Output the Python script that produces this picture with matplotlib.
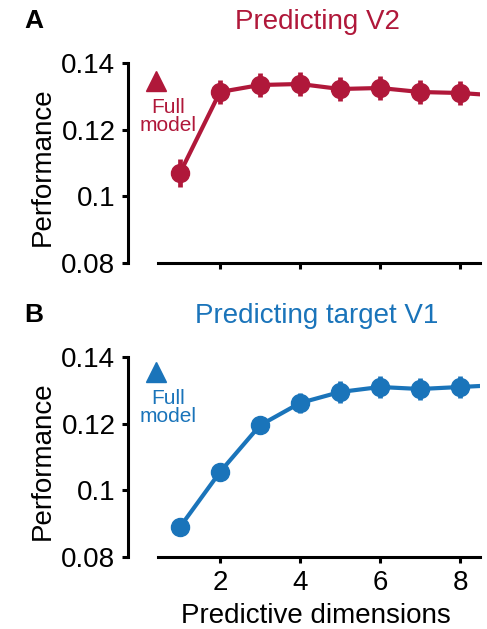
import matplotlib
matplotlib.use("Agg")
import matplotlib.pyplot as plt

plt.rcParams['font.family'] = ['Liberation Sans', 'DejaVu Sans']

# Performance vs. number of predictive dimensions
dims = [1, 2, 3, 4, 5, 6, 7, 8, 9]
v2_perf = [0.107, 0.1313, 0.1334, 0.1337, 0.1322, 0.1325, 0.1313, 0.1310, 0.1302]
v2_err = [0.0042, 0.0037, 0.0037, 0.0037, 0.0036, 0.0036, 0.0036, 0.0036, 0.0036]
v1_perf = [0.0890, 0.1055, 0.1195, 0.1262, 0.1295, 0.1310, 0.1304, 0.1310, 0.1316]
v1_err = [0.001, 0.0015, 0.0024, 0.0029, 0.0033, 0.0034, 0.0034, 0.0034, 0.0034]

# Full-model reference performance
full_x = 0.4
v2_full = 0.1346
v1_full = 0.1355

y_ticks = [0.08, 0.1, 0.12, 0.14]
y_ticklabels = ['0.08', '0.1', '0.12', '0.14']
x_ticks = [2, 4, 6, 8]

RED = '#B0183A'
BLUE = '#1A74BA'

W, H = 487, 629
fig = plt.figure(figsize=(W / 100, H / 100), dpi=100)


def panel(top_px, perf, err, full, color, title, letter, show_xlabels):
    ax = fig.add_axes([128 / W, 1 - (top_px + 200) / H, 352 / W, 200 / H])
    ax.plot(dims, perf, color=color, lw=3.0, zorder=2)
    ax.errorbar(dims, perf, yerr=err, fmt='o', color=color, ms=13,
                elinewidth=3.4, capsize=0, zorder=3)
    ax.plot([full_x], [full], marker='^', ms=15, color=color, clip_on=False)
    ax.text(full_x + 0.3, full - 0.0050, 'Full\nmodel', color=color,
            fontsize=15, ha='center', va='top', linespacing=0.95)

    ax.set_xlim(-0.3, 8.5)
    ax.set_ylim(0.08, 0.14)
    for s in ('top', 'right'):
        ax.spines[s].set_visible(False)
    ax.spines['left'].set_bounds(0.08, 0.14)
    ax.spines['bottom'].set_bounds(0.45, 8.5)
    ax.spines['left'].set_linewidth(2.2)
    ax.spines['bottom'].set_linewidth(2.2)

    ax.set_yticks(y_ticks)
    ax.set_yticklabels(y_ticklabels)
    ax.set_xticks(x_ticks)
    ax.tick_params(axis='both', labelsize=20, width=2.2, length=4, pad=5,
                   direction='out')
    if not show_xlabels:
        ax.set_xticklabels([])
    else:
        ax.set_xlabel('Predictive dimensions', fontsize=20)
        ax.xaxis.set_label_coords(0.534, -0.23)

    ax.set_ylabel('Performance', fontsize=20)
    ax.yaxis.set_label_coords(-0.205, 0.48)

    fig.text(317 / W, 1 - (top_px - 41) / H, title, color=color,
             fontsize=20, ha='center', va='center')
    fig.text(34 / W, 1 - (top_px - 42) / H, letter, fontsize=19,
             fontweight='bold', ha='center', va='center')
    return ax


panel(63, v2_perf, v2_err, v2_full, RED, 'Predicting V2', 'A', False)
panel(357, v1_perf, v1_err, v1_full, BLUE, 'Predicting target V1', 'B', True)

fig.savefig('out.png', dpi=100)
